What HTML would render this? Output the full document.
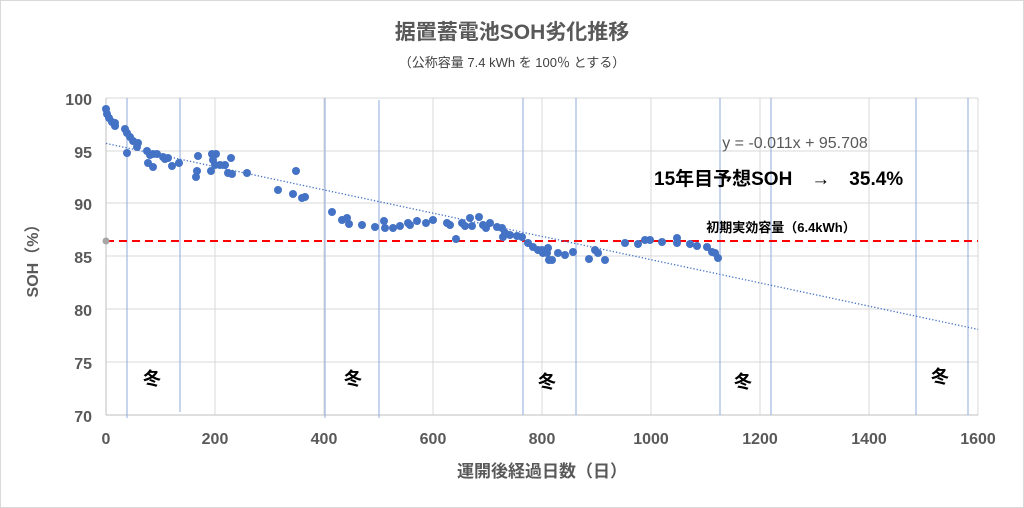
<!DOCTYPE html>
<html><head><meta charset="utf-8"><style>
body{margin:0;background:#fff}
svg{display:block;font-family:"Liberation Sans","Noto Sans CJK JP",sans-serif}
</style></head><body>
<svg width="1024" height="508" viewBox="0 0 1024 508">
<rect x="0.5" y="0.5" width="1023" height="507" fill="#fff" stroke="#d9d9d9"/>
<text x="512" y="39" text-anchor="middle" font-size="21" font-weight="bold" fill="#595959">据置蓄電池SOH劣化推移</text>
<text x="512" y="67" text-anchor="middle" font-size="13" fill="#404040">（公称容量 7.4 kWh を 100％ とする）</text>
<g stroke="#d9d9d9" stroke-width="1">
<line x1="106" y1="98" x2="978" y2="98"/><line x1="106" y1="151" x2="978" y2="151"/><line x1="106" y1="203" x2="978" y2="203"/><line x1="106" y1="256" x2="978" y2="256"/><line x1="106" y1="309" x2="978" y2="309"/><line x1="106" y1="362" x2="978" y2="362"/>
<line x1="215" y1="98" x2="215" y2="415"/><line x1="324" y1="98" x2="324" y2="415"/><line x1="433" y1="98" x2="433" y2="415"/><line x1="542" y1="98" x2="542" y2="415"/><line x1="651" y1="98" x2="651" y2="415"/><line x1="760" y1="98" x2="760" y2="415"/><line x1="869" y1="98" x2="869" y2="415"/><line x1="978" y1="98" x2="978" y2="415"/>
</g>
<line x1="106" y1="98" x2="106" y2="415" stroke="#bfbfbf"/>
<line x1="106" y1="415" x2="978" y2="415" stroke="#bfbfbf"/>
<g stroke="#8faadc" stroke-width="1">
<line x1="127" y1="98" x2="127" y2="418"/><line x1="180" y1="98" x2="180" y2="412"/><line x1="325" y1="98" x2="325" y2="418"/><line x1="379" y1="100" x2="379" y2="418"/><line x1="523" y1="98" x2="523" y2="415"/><line x1="576" y1="98" x2="576" y2="415"/><line x1="720" y1="98" x2="720" y2="415"/><line x1="771" y1="98" x2="771" y2="415"/><line x1="916" y1="98" x2="916" y2="415"/><line x1="968" y1="98" x2="968" y2="415"/>
</g>
<g font-size="16" font-weight="bold" fill="#595959" text-anchor="end">
<text x="92" y="105">100</text><text x="92" y="158">95</text><text x="92" y="210">90</text><text x="92" y="263">85</text><text x="92" y="316">80</text><text x="92" y="369">75</text><text x="92" y="422">70</text>
</g>
<g font-size="16" font-weight="bold" fill="#595959" text-anchor="middle">
<text x="106" y="444">0</text><text x="215" y="444">200</text><text x="324" y="444">400</text><text x="433" y="444">600</text><text x="542" y="444">800</text><text x="651" y="444">1000</text><text x="760" y="444">1200</text><text x="869" y="444">1400</text><text x="978" y="444">1600</text>
</g>
<text x="542" y="477" text-anchor="middle" font-size="17" font-weight="bold" fill="#595959">運開後経過日数（日）</text>
<text transform="translate(38,257) rotate(-90)" text-anchor="middle" font-size="16" font-weight="bold" fill="#595959">SOH（%）</text>
<line x1="106" y1="241" x2="978" y2="241" stroke="#ff0000" stroke-width="2" stroke-dasharray="8,5"/>
<circle cx="106" cy="241" r="3.5" fill="#a6a6a6"/>
<line x1="106" y1="143.4" x2="978" y2="329.4" stroke="#4472c4" stroke-width="1.3" stroke-dasharray="1.3,2"/>
<g fill="#4472c4">
<circle cx="106" cy="109" r="4"/><circle cx="107" cy="114" r="4"/><circle cx="109" cy="118" r="4"/><circle cx="112" cy="122" r="4"/><circle cx="115" cy="123" r="4"/><circle cx="115" cy="126" r="4"/><circle cx="125" cy="129" r="4"/><circle cx="127" cy="133" r="4"/><circle cx="130" cy="137" r="4"/><circle cx="133" cy="141" r="4"/><circle cx="138" cy="143" r="4"/><circle cx="137" cy="147" r="4"/><circle cx="127" cy="153" r="4"/><circle cx="147" cy="151" r="4"/><circle cx="150" cy="155" r="4"/><circle cx="153" cy="154" r="4"/><circle cx="157" cy="154" r="4"/><circle cx="148" cy="163" r="4"/><circle cx="153" cy="167" r="4"/><circle cx="163" cy="157" r="4"/><circle cx="165" cy="159" r="4"/><circle cx="168" cy="158" r="4"/><circle cx="172" cy="166" r="4"/><circle cx="179" cy="163" r="4"/><circle cx="198" cy="156" r="4"/><circle cx="197" cy="171" r="4"/><circle cx="196" cy="177" r="4"/><circle cx="212" cy="154" r="4"/><circle cx="216" cy="154" r="4"/><circle cx="213" cy="160" r="4"/><circle cx="215" cy="165" r="4"/><circle cx="220" cy="165" r="4"/><circle cx="225" cy="165" r="4"/><circle cx="211" cy="171" r="4"/><circle cx="228" cy="173" r="4"/><circle cx="232" cy="174" r="4"/><circle cx="231" cy="158" r="4"/><circle cx="247" cy="173" r="4"/><circle cx="278" cy="190" r="4"/><circle cx="296" cy="171" r="4"/><circle cx="293" cy="194" r="4"/><circle cx="302" cy="198" r="4"/><circle cx="305" cy="197" r="4"/><circle cx="332" cy="212" r="4"/><circle cx="342" cy="220" r="4"/><circle cx="347" cy="218" r="4"/><circle cx="349" cy="224" r="4"/><circle cx="362" cy="225" r="4"/><circle cx="375" cy="227" r="4"/><circle cx="384" cy="221" r="4"/><circle cx="385" cy="228" r="4"/><circle cx="393" cy="228" r="4"/><circle cx="400" cy="226" r="4"/><circle cx="408" cy="223" r="4"/><circle cx="410" cy="225" r="4"/><circle cx="417" cy="221" r="4"/><circle cx="426" cy="223" r="4"/><circle cx="433" cy="220" r="4"/><circle cx="447" cy="223" r="4"/><circle cx="450" cy="225" r="4"/><circle cx="456" cy="239" r="4"/><circle cx="462" cy="223" r="4"/><circle cx="465" cy="226" r="4"/><circle cx="470" cy="218" r="4"/><circle cx="472" cy="226" r="4"/><circle cx="479" cy="217" r="4"/><circle cx="483" cy="225" r="4"/><circle cx="486" cy="228" r="4"/><circle cx="490" cy="223" r="4"/><circle cx="497" cy="227" r="4"/><circle cx="502" cy="228" r="4"/><circle cx="505" cy="233" r="4"/><circle cx="503" cy="237" r="4"/><circle cx="510" cy="235" r="4"/><circle cx="517" cy="236" r="4"/><circle cx="522" cy="237" r="4"/><circle cx="528" cy="243" r="4"/><circle cx="533" cy="247" r="4"/><circle cx="538" cy="250" r="4"/><circle cx="543" cy="253" r="4"/><circle cx="548" cy="248" r="4"/><circle cx="549" cy="260" r="4"/><circle cx="542" cy="250" r="4"/><circle cx="547" cy="253" r="4"/><circle cx="552" cy="260" r="4"/><circle cx="558" cy="253" r="4"/><circle cx="565" cy="255" r="4"/><circle cx="573" cy="252" r="4"/><circle cx="589" cy="259" r="4"/><circle cx="595" cy="250" r="4"/><circle cx="598" cy="253" r="4"/><circle cx="605" cy="260" r="4"/><circle cx="625" cy="243" r="4"/><circle cx="638" cy="244" r="4"/><circle cx="645" cy="240" r="4"/><circle cx="650" cy="240" r="4"/><circle cx="662" cy="242" r="4"/><circle cx="677" cy="238" r="4"/><circle cx="677" cy="243" r="4"/><circle cx="690" cy="244" r="4"/><circle cx="697" cy="246" r="4"/><circle cx="707" cy="247" r="4"/><circle cx="712" cy="252" r="4"/><circle cx="715" cy="253" r="4"/><circle cx="718" cy="258" r="4"/>
</g>
<text x="795" y="148" text-anchor="middle" font-size="16" fill="#595959">y = -0.011x + 95.708</text>
<text x="654" y="185" font-size="19" font-weight="bold" fill="#000">15年目予想SOH　→　35.4%</text>
<text x="781" y="232" text-anchor="middle" font-size="13" font-weight="bold" fill="#000">初期実効容量（6.4kWh）</text>
<g font-size="18" font-weight="bold" fill="#000" text-anchor="middle">
<text x="152" y="385">冬</text><text x="353" y="385">冬</text><text x="547" y="388">冬</text><text x="743" y="388">冬</text><text x="940" y="383">冬</text>
</g>
</svg>
</body></html>
